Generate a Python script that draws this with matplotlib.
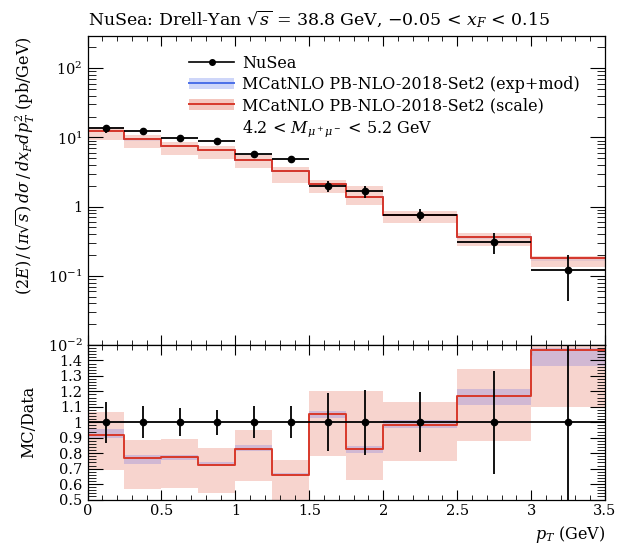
import numpy as np
import matplotlib
matplotlib.use('Agg')
import matplotlib.pyplot as plt
from matplotlib.lines import Line2D
from matplotlib.patches import Patch
from matplotlib.ticker import MultipleLocator, FixedLocator, FuncFormatter, LogLocator, NullFormatter

plt.rcParams['font.family'] = ['DejaVu Serif']
plt.rcParams['mathtext.fontset'] = 'dejavuserif'

# bin edges in pT (GeV)
edges = [0.0, 0.25, 0.5, 0.75, 1.0, 1.25, 1.5, 1.75, 2.0, 2.5, 3.0, 3.5]
# NuSea data
data = [13.5, 12.2, 9.8, 9.0, 5.8, 4.9, 2.0, 1.67, 0.77, 0.31, 0.122]
data_rel_err = [0.133, 0.104, 0.091, 0.08, 0.104, 0.104, 0.189, 0.21, 0.194, 0.333, 0.65]
# MC / data ratio, central
mc_ratio = [0.92, 0.77, 0.775, 0.726, 0.827, 0.66, 1.053, 0.829, 0.985, 1.173, 1.47]
# scale band (ratio to data)
scale_lo = [0.689, 0.571, 0.575, 0.543, 0.618, 0.45, 0.784, 0.623, 0.747, 0.876, 1.098]
scale_hi = [1.066, 0.883, 0.891, 0.833, 0.952, 0.758, 1.203, 1.203, 1.134, 1.343, 1.56]
# exp+mod band (ratio to data)
exp_lo = [0.90, 0.732, 0.755, 0.72, 0.815, 0.65, 1.027, 0.80, 0.965, 1.113, 1.364]
exp_hi = [0.955, 0.79, 0.785, 0.74, 0.855, 0.67, 1.07, 0.848, 1.015, 1.214, 1.48]

edges = np.array(edges)
data = np.array(data)
centers = 0.5 * (edges[1:] + edges[:-1])
halfw = 0.5 * (edges[1:] - edges[:-1])
err = data * np.array(data_rel_err)
mc = data * np.array(mc_ratio)

red = '#d8382a'
pink = '#f2b8ae'
blue = '#4a6fe8'
lblue = '#aebcf5'
fs = 11.5


def step(v):
    return np.append(v, v[-1])


fig = plt.figure(figsize=(6.17, 5.5), dpi=100)
ax = fig.add_axes([87.5 / 617, 1 - 345 / 550, (605 - 87.5) / 617, (345 - 36) / 550])
axr = fig.add_axes([87.5 / 617, 1 - 499.5 / 550, (605 - 87.5) / 617, (499.5 - 345) / 550])

# main panel
ax.fill_between(edges, step(data * np.array(exp_lo)), step(data * np.array(exp_hi)),
                step='post', color=lblue, alpha=0.5, lw=0)
ax.fill_between(edges, step(data * np.array(scale_lo)), step(data * np.array(scale_hi)),
                step='post', color=pink, alpha=0.6, lw=0)
ax.step(edges, step(mc), where='post', color=blue, lw=1.4)
ax.step(edges, step(mc), where='post', color=red, lw=1.4)
ax.errorbar(centers, data, xerr=halfw, yerr=err, fmt='o', color='black',
            ms=4.5, elinewidth=1.3, capsize=0, zorder=5)
ax.set_yscale('log')
ax.set_xlim(0, 3.5)
ax.set_ylim(1e-2, 293)


def logfmt(v, pos):
    e = int(round(np.log10(v)))
    if e == 0:
        return '1'
    return r'$10^{%d}$' % e


ax.yaxis.set_major_locator(LogLocator(base=10, numticks=10))
ax.yaxis.set_major_formatter(FuncFormatter(logfmt))
ax.yaxis.set_minor_locator(LogLocator(base=10, subs=np.arange(2, 10), numticks=20))
ax.yaxis.set_minor_formatter(NullFormatter())
ax.xaxis.set_major_locator(MultipleLocator(0.5))
ax.xaxis.set_minor_locator(MultipleLocator(0.1))
ax.tick_params(axis='x', labelbottom=False)
ax.set_ylabel(r'$(2E)\,/\,(\pi\sqrt{s})\,d\sigma\,/\,dx_F dp_T^2$ (pb/GeV)', loc='top', fontsize=fs)
ax.yaxis.set_label_coords(-0.098, 1.0)
ax.set_title(r'NuSea: Drell-Yan $\sqrt{s}$ = 38.8 GeV, $-$0.05 < $x_F$ < 0.15',
             loc='left', fontsize=12.5, pad=8)

handles = [Line2D([], [], color='black', marker='o', ms=4, lw=1.2),
           (Patch(facecolor=lblue, alpha=0.6, lw=0), Line2D([], [], color=blue, lw=1.4)),
           (Patch(facecolor=pink, alpha=0.8, lw=0), Line2D([], [], color=red, lw=1.4)),
           Line2D([], [], alpha=0)]
labels = ['NuSea', 'MCatNLO PB-NLO-2018-Set2 (exp+mod)', 'MCatNLO PB-NLO-2018-Set2 (scale)',
          r'4.2 < $M_{\mu^+\mu^-}$ < 5.2 GeV']
ax.legend(handles, labels, loc='upper left', bbox_to_anchor=(0.169, 0.985), frameon=False,
          fontsize=fs, handlelength=2.8, handletextpad=0.5, labelspacing=0.25)

# ratio panel
r = np.array(mc_ratio)
axr.fill_between(edges, step(np.array(scale_lo)), step(np.array(scale_hi)),
                 step='post', color=pink, alpha=0.6, lw=0)
axr.fill_between(edges, step(np.array(exp_lo)), step(np.array(exp_hi)),
                 step='post', color='#b8a6d8', alpha=0.6, lw=0)
axr.step(edges, step(r), where='post', color=red, lw=1.4)
axr.errorbar(centers, np.ones_like(centers), xerr=halfw, yerr=np.array(data_rel_err),
             fmt='o', color='black', ms=4.5, elinewidth=1.3, capsize=0, zorder=5)
axr.set_xlim(0, 3.5)
axr.set_ylim(0.5, 1.5)
axr.yaxis.set_major_locator(FixedLocator([0.5, 0.6, 0.7, 0.8, 0.9, 1.0, 1.1, 1.2, 1.3, 1.4]))
axr.yaxis.set_major_formatter(FuncFormatter(lambda v, p: '1' if abs(v - 1) < 1e-6 else '%.1f' % v))
axr.yaxis.set_minor_locator(MultipleLocator(0.02))
axr.xaxis.set_major_locator(MultipleLocator(0.5))
axr.xaxis.set_major_formatter(FuncFormatter(lambda v, p: '%g' % v))
axr.xaxis.set_minor_locator(MultipleLocator(0.1))
axr.set_ylabel('MC/Data', fontsize=fs)
axr.yaxis.set_label_coords(-0.098, 0.5)
axr.set_xlabel(r'$p_T$ (GeV)', loc='right', fontsize=fs)

for a in (ax, axr):
    a.tick_params(which='both', direction='in', top=True, right=True, labelsize=10.5)
    a.tick_params(axis='y', which='major', length=11, width=0.8)
    a.tick_params(axis='y', which='minor', length=5.5, width=0.6)
    a.tick_params(axis='x', which='major', length=7, width=0.8)
    a.tick_params(axis='x', which='minor', length=3.6, width=0.6)
    for s in a.spines.values():
        s.set_linewidth(0.9)

fig.savefig('out.png', dpi=100)
